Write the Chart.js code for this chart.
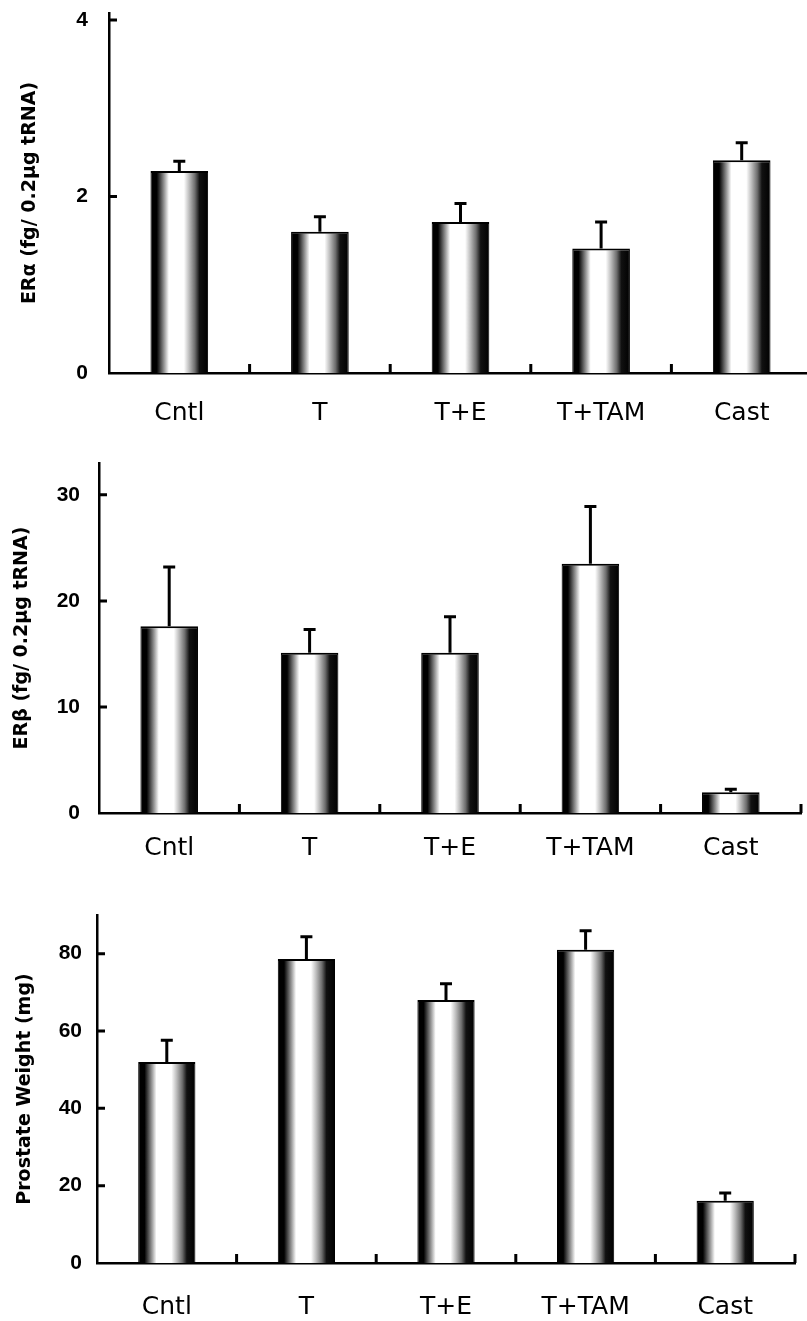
<!DOCTYPE html>
<html>
<head>
<meta charset="utf-8">
<script src="https://cdn.jsdelivr.net/npm/chart.js@4.4.1/dist/chart.umd.min.js"></script>
<style>
  html, body { margin: 0; padding: 0; background: #fff; }
  body { width: 807px; height: 1321px; overflow: hidden; position: relative; }
  canvas { position: absolute; left: 0; display: block; }
</style>
</head>
<body>
<canvas id="chart-alpha" width="820" height="430" style="top:0px"></canvas>
<canvas id="chart-beta" width="820" height="440" style="top:430px"></canvas>
<canvas id="chart-weight" width="820" height="451" style="top:870px"></canvas>
<script>
// Groups on the x axis (same for all three panels)
const groups = ['Cntl', 'T', 'T+E', 'T+TAM', 'Cast'];

// Panel 1: ER alpha
const alphaMeans = [2.29, 1.60, 1.71, 1.41, 2.41];
const alphaErrTops = [2.40, 1.77, 1.92, 1.71, 2.61];
const alphaTicks = [0, 2, 4];

// Panel 2: ER beta
const betaMeans = [17.6, 15.1, 15.1, 23.5, 1.95];
const betaErrTops = [23.2, 17.3, 18.5, 28.9, 2.25];
const betaTicks = [0, 10, 20, 30];

// Panel 3: prostate weight
const weightMeans = [52.0, 78.6, 68.0, 81.0, 16.1];
const weightErrTops = [57.6, 84.4, 72.2, 85.9, 18.1];
const weightTicks = [0, 20, 40, 60, 80];

const BAR_PCT = 0.41;
const CANVAS_W = 820;

// dark edges, light middle, like the shaded bars in the figure
function barFill(ctx) {
    const chart = ctx.chart;
    const x = chart.scales.x;
    if (ctx.type !== 'data' || !chart.chartArea || !x) return '#888';
    const c = x.getPixelForValue(ctx.dataIndex);
    const w = (x.width / groups.length) * BAR_PCT;
    const g = chart.ctx.createLinearGradient(c - w / 2, 0, c + w / 2, 0);
    g.addColorStop(0, '#000');
    g.addColorStop(0.11, '#000');
    g.addColorStop(0.16, '#3a3a3a');
    g.addColorStop(0.24, '#9a9a9a');
    g.addColorStop(0.32, '#fff');
    g.addColorStop(0.58, '#fff');
    g.addColorStop(0.67, '#bdbdbd');
    g.addColorStop(0.77, '#6e6e6e');
    g.addColorStop(0.85, '#111');
    g.addColorStop(1, '#000');
    return g;
}

// error bars (upper only) from dataset.errTops
const errorBars = {
    id: 'errorBars',
    afterDatasetsDraw(chart) {
        const ds = chart.data.datasets[0];
        const meta = chart.getDatasetMeta(0);
        const y = chart.scales.y;
        const c = chart.ctx;
        c.save();
        c.strokeStyle = '#000';
        c.lineWidth = 3;
        meta.data.forEach((bar, i) => {
            const top = y.getPixelForValue(ds.errTops[i]);
            c.beginPath();
            c.moveTo(bar.x, bar.y);
            c.lineTo(bar.x, top);
            c.moveTo(bar.x - 6, top);
            c.lineTo(bar.x + 6, top);
            c.stroke();
        });
        c.restore();
    }
};

// short tick marks pointing into the plot
const innerTicks = {
    id: 'innerTicks',
    afterDraw(chart) {
        const c = chart.ctx;
        const x = chart.scales.x;
        const y = chart.scales.y;
        const area = chart.chartArea;
        c.save();
        c.strokeStyle = '#000';
        c.lineWidth = 3;
        c.beginPath();
        y.ticks.forEach(t => {
            if (t.value === 0) return;
            const py = y.getPixelForValue(t.value);
            c.moveTo(area.left, py);
            c.lineTo(area.left + 8, py);
        });
        for (let i = 1; i <= groups.length; i++) {
            const px = i < groups.length
                ? (x.getPixelForValue(i - 1) + x.getPixelForValue(i)) / 2
                : area.right;
            c.moveTo(px, area.bottom);
            c.lineTo(px, area.bottom - 9);
        }
        c.stroke();
        c.restore();
    }
};

function makeChart(id, title, means, errTops, tickValues, yMax, lay) {
    const ctx = document.getElementById(id).getContext('2d');
    return new Chart(ctx, {
        type: 'bar',
        data: {
            labels: groups,
            datasets: [{
                data: means,
                errTops: errTops,
                backgroundColor: barFill,
                borderColor: '#000',
                borderWidth: { top: 2, left: 1, right: 1, bottom: 0 },
                borderSkipped: 'bottom',
                barPercentage: BAR_PCT,
                categoryPercentage: 1.0
            }]
        },
        options: {
            responsive: false,
            animation: false,
            layout: {
                padding: { top: lay.top, left: 0, right: CANVAS_W - lay.right, bottom: 0 }
            },
            plugins: {
                legend: { display: false },
                tooltip: { enabled: false }
            },
            scales: {
                x: {
                    grid: { display: false, drawTicks: false },
                    border: { display: true, color: '#000', width: 2.5 },
                    ticks: {
                        color: '#000',
                        padding: lay.xPad,
                        font: { family: "'DejaVu Sans', sans-serif", size: 25 }
                    },
                    afterFit: s => { s.height = lay.xHeight; }
                },
                y: {
                    min: 0,
                    max: yMax,
                    afterBuildTicks: s => { s.ticks = tickValues.map(v => ({ value: v })); },
                    afterFit: s => { s.width = lay.left; },
                    grid: { display: false, drawTicks: true, tickLength: lay.labelGap },
                    border: { display: true, color: '#000', width: 2.5 },
                    ticks: {
                        color: '#000',
                        padding: 0,
                        font: { family: "'Liberation Sans', sans-serif", size: 21, weight: 'bold' }
                    },
                    title: {
                        display: true,
                        text: title,
                        color: '#000',
                        padding: { top: lay.titleGap, bottom: 0 },
                        font: { family: "'DejaVu Sans', sans-serif", size: 19, weight: 'bold' }
                    }
                }
            }
        },
        plugins: [errorBars, innerTicks]
    });
}

makeChart('chart-alpha', 'ERα (fg/ 0.2μg tRNA)', alphaMeans, alphaErrTops, alphaTicks, 4.08,
    { top: 13, left: 109, right: 812, xHeight: 57, xPad: 25, labelGap: 21, titleGap: 19 });
makeChart('chart-beta', 'ERβ (fg/ 0.2μg tRNA)', betaMeans, betaErrTops, betaTicks, 33,
    { top: 33, left: 99, right: 801, xHeight: 57, xPad: 20, labelGap: 19, titleGap: 11 });
makeChart('chart-weight', 'Prostate Weight (mg)', weightMeans, weightErrTops, weightTicks, 90,
    { top: 45, left: 97, right: 795, xHeight: 58, xPad: 29, labelGap: 15, titleGap: 14 });
</script>
</body>
</html>
